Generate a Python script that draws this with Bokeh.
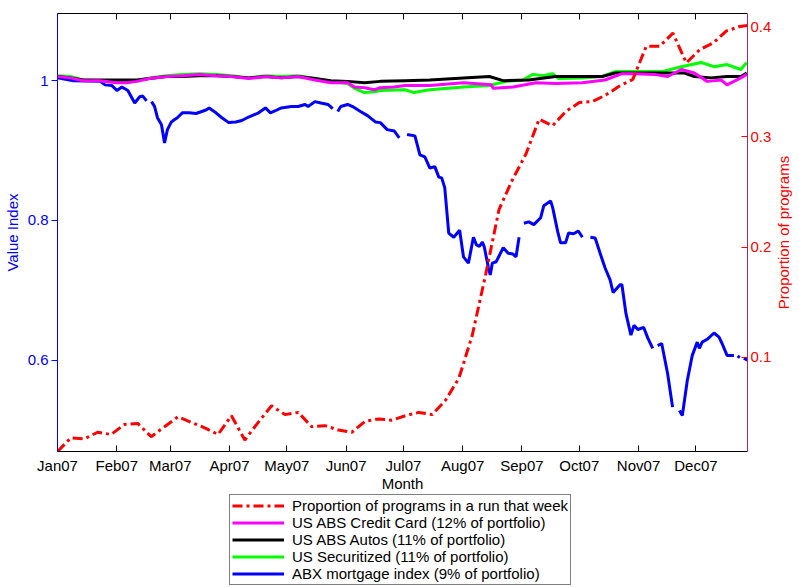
import numpy as np
import pandas as pd
from bokeh.plotting import figure
from bokeh.layouts import column, row
from bokeh.models import (Range1d, LinearAxis, DatetimeAxis, FixedTicker, DatetimeTickFormatter,
                          Legend, LegendItem, CustomJSTickFormatter, Title)
from bokeh.embed import file_html
from bokeh.resources import INLINE

START = pd.Timestamp("2007-01-01")
END_DAY = 361

month_starts = ["2007-01-01", "2007-02-01", "2007-03-01", "2007-04-01", "2007-05-01", "2007-06-01",
                "2007-07-01", "2007-08-01", "2007-09-01", "2007-10-01", "2007-11-01", "2007-12-01"]

# Proportion of programs in a run that week (right axis), weekly
run_day = list(range(0, 358, 7)) + [361]
run_share = [0.0145, 0.027, 0.026, 0.032, 0.030, 0.039, 0.040, 0.028, 0.037, 0.046, 0.041, 0.036,
             0.030, 0.047, 0.025, 0.041, 0.056, 0.048, 0.050, 0.037, 0.038, 0.034, 0.032, 0.042,
             0.044, 0.043, 0.047, 0.050, 0.048, 0.061, 0.081, 0.120, 0.175, 0.234, 0.261, 0.284,
             0.316, 0.310, 0.323, 0.331, 0.332, 0.338, 0.346, 0.352, 0.382, 0.382, 0.394, 0.367,
             0.379, 0.385, 0.396, 0.400, 0.401]

# US ABS Credit Card
cc_day = [0, 6.7, 13.5, 22.3, 31.1, 36.3, 41.5, 48.2, 57.0, 65.3, 74.1, 82.9, 91.2, 100.0, 108.8,
          117.1, 125.9, 134.7, 143.0, 151.8, 155.4, 160.6, 165.8, 168.9, 176.2, 181.9, 194.8, 212.4,
          226.9, 228.0, 238.3, 250.3, 260.6, 274.6, 286.5, 295.3, 302.1, 312.4, 319.2, 326.4, 333.2,
          339.9, 347.2, 350.3, 357.5, 360.6]
cc_val = [1.006, 1.004, 1.000, 1.000, 0.997, 0.997, 0.999, 1.003, 1.006, 1.007, 1.009, 1.007, 1.006,
          1.003, 1.006, 1.004, 1.006, 1.001, 0.997, 0.997, 0.991, 0.990, 0.987, 0.990, 0.991, 0.993,
          0.993, 0.997, 0.994, 0.989, 0.991, 0.997, 0.996, 0.997, 1.001, 1.010, 1.010, 1.009, 1.006,
          1.016, 1.011, 0.999, 1.001, 0.994, 1.004, 1.009]

# US ABS Autos
auto_day = [0, 6.7, 13.5, 22.3, 31.1, 41.5, 48.2, 57.0, 65.3, 74.1, 82.9, 91.2, 100.0, 108.8, 117.1,
            125.9, 134.7, 143.0, 151.8, 160.6, 168.9, 181.9, 194.8, 212.4, 225.9, 233.2, 246.6, 260.6,
            274.6, 285.0, 291.7, 302.1, 316.1, 328.0, 333.2, 342.0, 350.3, 357.5, 360.6]
auto_val = [1.006, 1.004, 1.001, 1.001, 1.001, 1.001, 1.003, 1.006, 1.006, 1.007, 1.007, 1.006, 1.004,
            1.006, 1.004, 1.006, 1.003, 1.000, 0.999, 0.997, 0.999, 1.000, 1.001, 1.004, 1.006, 1.000,
            1.001, 1.006, 1.006, 1.006, 1.011, 1.011, 1.011, 1.011, 1.006, 1.004, 1.006, 1.006, 1.011]

# US Securitized
sec_day = [0, 6.7, 13.5, 22.3, 31.1, 41.5, 48.2, 57.0, 65.3, 74.1, 82.9, 91.2, 100.0, 108.8, 117.1,
           125.9, 134.7, 143.0, 151.8, 155.4, 160.6, 165.8, 168.9, 181.9, 186.5, 194.8, 212.4, 225.9,
           234.7, 243.5, 248.7, 253.9, 259.1, 262.2, 274.6, 285.0, 291.7, 302.1, 316.1, 326.4, 336.8,
           343.5, 350.3, 357.5, 360.6]
sec_val = [1.007, 1.006, 1.001, 1.000, 0.999, 1.000, 1.004, 1.007, 1.009, 1.010, 1.009, 1.007, 1.004,
           1.007, 1.006, 1.007, 1.003, 0.999, 0.996, 0.989, 0.983, 0.984, 0.986, 0.987, 0.983, 0.987,
           0.991, 0.993, 0.999, 1.001, 1.009, 1.007, 1.010, 1.003, 1.004, 1.006, 1.013, 1.013, 1.013,
           1.020, 1.026, 1.020, 1.023, 1.016, 1.026]

# ABX mortgage index (None = missing observation)
abx_day = [0, 8.3, 22.3, 24.9, 28.5, 31.1, 33.7, 36.8, 40.4, 43.0, 44.6, 46.6, 47.9, 49.2, 50.8, 52.3,
           54.4, 56.0, 57.5, 59.6, 61.1, 62.7, 65.3, 68.9, 72.5, 77.7, 79.3, 82.9, 86.0, 89.6, 93.3,
           96.4, 100.0, 105.2, 108.8, 111.4, 114.0, 117.1, 122.3, 125.9, 129.5, 131.1, 134.7, 137.8,
           141.5, 144.0, 145.3, 146.6, 148.2, 151.8, 154.4, 158.5, 162.2, 166.3, 168.9, 172.5, 176.2,
           178.8, 181.0, 182.9, 187.0, 189.6, 192.2, 194.8, 197.4, 199.5, 201.0, 202.6, 204.7, 207.3,
           210.4, 212.4, 215.0, 217.6, 219.2, 220.7, 222.3, 223.3, 225.4, 226.4, 227.5, 229.5, 233.2,
           235.8, 238.3, 239.9, 241.5, 242.8, 244.0, 246.6, 249.2, 252.8, 254.4, 258.0, 259.1, 261.7,
           263.2, 265.8, 267.4, 270.0, 272.5, 274.6, 276.5, 278.8, 281.3, 283.9, 286.5, 289.1, 290.7,
           294.3, 295.3, 297.4, 300.0, 301.6, 303.6, 306.7, 308.8, 311.4, 312.7, 314.0, 316.1, 319.2,
           321.8, 323.5, 325.4, 326.9, 329.5, 332.1, 334.7, 335.8, 337.3, 339.9, 343.5, 346.1, 347.7,
           350.3, 353.9, 355.0, 355.8, 357.0, 358.0, 359.1, 361.0]
abx_val = [1.004, 1.000, 0.999, 0.994, 0.993, 0.986, 0.991, 0.986, 0.968, 0.977, 0.978, 0.971, None,
           0.970, 0.963, 0.947, 0.937, 0.911, 0.930, 0.941, 0.944, 0.947, 0.954, 0.954, 0.953, 0.958,
           0.961, 0.954, 0.947, 0.940, 0.941, 0.943, 0.948, 0.954, 0.961, 0.954, 0.957, 0.961, 0.963,
           0.963, 0.966, 0.963, 0.970, 0.968, 0.966, 0.960, None, 0.956, 0.963, 0.966, 0.963, 0.956,
           0.950, 0.941, 0.940, 0.930, 0.928, 0.918, None, 0.923, 0.921, 0.894, 0.891, 0.875, 0.877,
           0.862, 0.861, 0.847, 0.782, 0.776, 0.786, 0.748, 0.739, 0.776, 0.765, 0.763, 0.769, 0.762,
           0.733, 0.722, 0.739, 0.741, 0.761, 0.753, 0.752, 0.748, 0.776, None, 0.796, 0.798, 0.794,
           0.804, 0.821, 0.828, 0.818, 0.784, 0.768, 0.768, 0.782, 0.781, 0.785, 0.776, None, 0.776,
           0.775, 0.753, 0.732, 0.715, 0.697, 0.708, 0.708, 0.667, 0.636, 0.650, 0.644, 0.647, 0.632,
           0.617, None, 0.621, 0.624, 0.581, 0.533, None, 0.528, 0.521, 0.571, 0.607, 0.626, 0.617,
           0.626, 0.630, 0.639, 0.633, 0.624, 0.607, 0.607, None, 0.606, 0.604, None, 0.603, 0.600]

legend_labels = ["Proportion of programs in a run that week",
                 "US ABS Credit Card (12% of portfolio)",
                 "US ABS Autos (11% of portfolio)",
                 "US Securitized (11% of portfolio)",
                 "ABX mortgage index (9% of portfolio)"]


def to_dates(days):
    return START + pd.to_timedelta(np.asarray(days, dtype=float), unit="D")


def to_vals(vals):
    return np.array([np.nan if v is None else v for v in vals], dtype=float)


FONT = "Liberation Sans"
BLUE = "#0000FF"
RED = "#FF0000"
GREEN = "#00FF00"
MAGENTA = "#FF00FF"
RUN_DASH = "10 4 3 4"

P_W, P_H = 774, 494
S_W = 17
Q_H = 93

x_range = Range1d(START, START + pd.Timedelta(days=END_DAY))
p = figure(width=P_W, height=P_H, x_axis_type="datetime", x_range=x_range,
           y_range=Range1d(0.4695, 1.0961), output_backend="svg", toolbar_location=None)
p.extra_y_ranges = {"right": Range1d(0.01455, 0.4118)}
p.xgrid.visible = False
p.ygrid.visible = False
p.outline_line_color = None
p.background_fill_color = "white"
p.border_fill_color = "white"
p.min_border_left = 0
p.min_border_right = 0
p.min_border_bottom = 0
p.min_border_top = 13

tick_ms = [int(pd.Timestamp(m).value // 10**6) for m in month_starts]
fmt_str = "%b%y"
dt_fmt = DatetimeTickFormatter(microseconds=fmt_str, milliseconds=fmt_str, seconds=fmt_str,
                               minsec=fmt_str, minutes=fmt_str, hourmin=fmt_str, hours=fmt_str,
                               days=fmt_str, months=fmt_str, years=fmt_str)

xa = p.xaxis[0]
xa.ticker = FixedTicker(ticks=tick_ms)
xa.formatter = dt_fmt
xa.minor_tick_line_color = None
xa.major_tick_in = 6
xa.major_tick_out = 0
xa.major_label_standoff = 5
xa.major_label_text_font = FONT
xa.major_label_text_font_size = "15px"
xa.major_label_text_color = "black"
xa.axis_label = "Month"
xa.axis_label_text_font = FONT
xa.axis_label_text_font_size = "15px"
xa.axis_label_text_font_style = "normal"
xa.axis_label_text_color = "black"
xa.axis_label_standoff = -2
xa.axis_line_color = "black"

top = DatetimeAxis(ticker=FixedTicker(ticks=tick_ms),
                   formatter=CustomJSTickFormatter(code="return '';"),
                   major_label_standoff=0,
                   major_tick_in=6, major_tick_out=0, minor_tick_line_color=None,
                   axis_line_color="black")
p.add_layout(top, "above")

ya = p.yaxis[0]
ya.ticker = FixedTicker(ticks=[0.6, 0.8, 1.0])
ya.formatter = CustomJSTickFormatter(code="return (Math.abs(tick - 1) < 1e-6) ? '1' : tick.toFixed(1);")
ya.minor_tick_line_color = None
ya.major_tick_in = 0
ya.major_tick_out = 6
ya.major_tick_line_color = BLUE
ya.axis_line_color = BLUE
ya.major_label_standoff = 3
ya.major_label_text_font = FONT
ya.major_label_text_font_size = "15px"
ya.major_label_text_color = BLUE
ya.axis_label = "Value Index"
ya.axis_label_text_font = FONT
ya.axis_label_text_font_size = "15px"
ya.axis_label_text_font_style = "normal"
ya.axis_label_text_color = BLUE
ya.axis_label_standoff = 4

ra = LinearAxis(y_range_name="right", ticker=FixedTicker(ticks=[0.1, 0.2, 0.3, 0.4]),
                minor_tick_line_color=None, major_tick_in=6, major_tick_out=0,
                major_tick_line_color=RED, axis_line_color="#992a90",
                major_label_standoff=3, major_label_text_font=FONT,
                major_label_text_font_size="15px", major_label_text_color=RED)
p.add_layout(ra, "right")

p.line(to_dates(abx_day), to_vals(abx_val), line_color=BLUE, line_width=3)
p.line(to_dates(sec_day), to_vals(sec_val), line_color=GREEN, line_width=3)
p.line(to_dates(auto_day), to_vals(auto_val), line_color="black", line_width=3)
p.line(to_dates(cc_day), to_vals(cc_val), line_color=MAGENTA, line_width=3)
p.line(to_dates(run_day), run_share, line_color=RED, line_width=3,
       line_dash=RUN_DASH, y_range_name="right")

# right-hand axis title, reading bottom to top, in a narrow strip beside the plot
s = figure(width=S_W, height=P_H, x_range=Range1d(0, 1), y_range=Range1d(0, 1),
           output_backend="svg", toolbar_location=None,
           x_axis_location=None, y_axis_location=None)
s.xgrid.visible = False
s.ygrid.visible = False
s.outline_line_color = None
s.min_border = 0
s.min_border_top = 13
s.min_border_bottom = 43
s.add_layout(Title(text="Proportion of programs", align="center", text_color=RED,
                   text_font=FONT, text_font_size="15px", text_font_style="normal",
                   standoff=0, offset=0), "left")

# legend strip underneath the axes (same line styles as the plotted series)
q = figure(width=P_W, height=Q_H, x_range=Range1d(0, 1), y_range=Range1d(0, 1),
           output_backend="svg", toolbar_location=None,
           x_axis_location=None, y_axis_location=None)
q.xgrid.visible = False
q.ygrid.visible = False
q.outline_line_color = None
q.min_border = 0
styles = [dict(line_color=RED, line_dash=RUN_DASH), dict(line_color=MAGENTA),
          dict(line_color="black"), dict(line_color=GREEN), dict(line_color=BLUE)]
items = []
for lab, st in zip(legend_labels, styles):
    rr = q.line([np.nan], [np.nan], line_width=3, **st)
    items.append(LegendItem(label=lab, renderers=[rr]))

legend = Legend(items=items, location=(172, 2), orientation="vertical")
legend.border_line_color = "black"
legend.border_line_width = 1
legend.background_fill_color = "white"
legend.background_fill_alpha = 1
legend.label_text_font = FONT
legend.label_text_font_size = "15px"
legend.label_text_color = "black"
legend.glyph_width = 52
legend.glyph_height = 17
legend.label_height = 17
legend.spacing = 0
legend.padding = 2
legend.margin = 0
legend.label_standoff = 8
q.add_layout(legend, "center")

layout = row(column(p, q, spacing=0), s, spacing=0)
open("out.html", "w").write(file_html(layout, INLINE))
